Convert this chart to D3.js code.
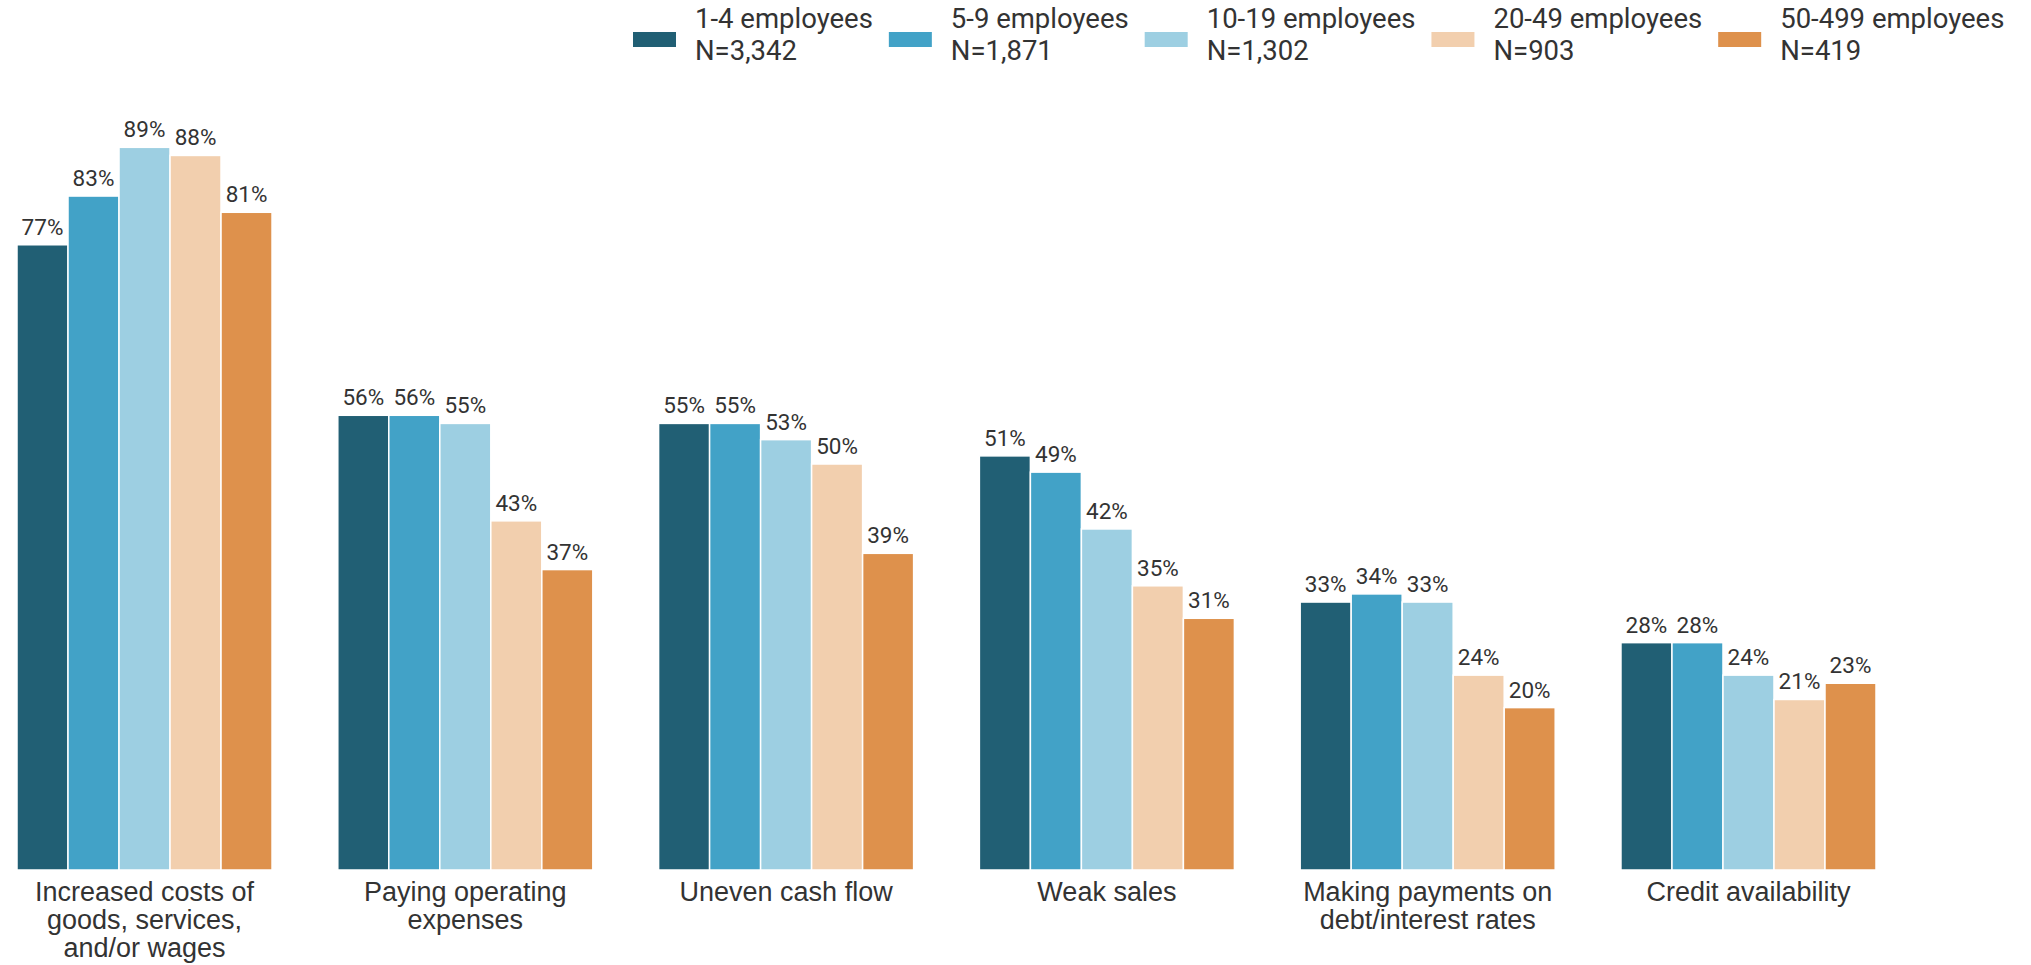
<!DOCTYPE html>
<html>
<head>
<meta charset="utf-8">
<script src="https://cdn.jsdelivr.net/npm/d3@7"></script>
<style>
  html, body { margin: 0; padding: 0; background: #fff; }
  svg { display: block; font-family: Roboto, "Noto Sans", sans-serif; }
</style>
</head>
<body>
<svg id="chart" width="2031" height="965"></svg>
<script>
const categories = [
  "Increased costs of goods, services, and/or wages",
  "Paying operating expenses",
  "Uneven cash flow",
  "Weak sales",
  "Making payments on debt/interest rates",
  "Credit availability"
];
const tickLabels = [
  ["Increased costs of", "goods, services,", "and/or wages"],
  ["Paying operating", "expenses"],
  ["Uneven cash flow"],
  ["Weak sales"],
  ["Making payments on", "debt/interest rates"],
  ["Credit availability"]
];
const seriesNames = ["1-4 employees", "5-9 employees", "10-19 employees", "20-49 employees", "50-499 employees"];
const seriesN = ["N=3,342", "N=1,871", "N=1,302", "N=903", "N=419"];
const colors = ["#215f74", "#42a2c7", "#9dcfe2", "#f2cfae", "#de914c"];
const s1_4 =    [77, 56, 55, 51, 33, 28];
const s5_9 =    [83, 56, 55, 49, 34, 28];
const s10_19 =  [89, 55, 53, 42, 33, 24];
const s20_49 =  [88, 43, 50, 35, 24, 21];
const s50_499 = [81, 37, 39, 31, 20, 23];
const seriesValues = [s1_4, s5_9, s10_19, s20_49, s50_499];

const svg = d3.select("#chart");
const textColor = "#333333";

const x0 = d3.scaleBand().domain(categories).range([17, 1876]).paddingInner(0.205).paddingOuter(0);
const x1 = d3.scaleBand().domain(d3.range(seriesNames.length)).range([0, x0.bandwidth()]).padding(0);
const y = d3.scaleLinear().domain([0, 100]).range([870, 58]);

const groups = svg.append("g").selectAll("g")
  .data(categories)
  .join("g")
  .attr("transform", d => `translate(${x0(d)},0)`);

groups.selectAll("rect")
  .data((d, i) => seriesValues.map((s, j) => ({ j, v: s[i] })))
  .join("rect")
  .attr("x", d => x1(d.j))
  .attr("width", x1.bandwidth())
  .attr("y", d => y(d.v))
  .attr("height", d => y(0) - y(d.v))
  .attr("fill", d => colors[d.j])
  .attr("stroke", "#ffffff")
  .attr("stroke-width", 1.5);

groups.selectAll("text.val")
  .data((d, i) => seriesValues.map((s, j) => ({ j, v: s[i] })))
  .join("text")
  .attr("class", "val")
  .attr("x", d => x1(d.j) + x1.bandwidth() / 2)
  .attr("y", d => y(d.v) - 10)
  .attr("text-anchor", "middle")
  .attr("font-size", 22.5)
  .attr("fill", textColor)
  .text(d => d.v + "%");

// x axis
const axis = svg.append("g")
  .attr("transform", `translate(0,${y(0)})`)
  .call(d3.axisBottom(x0).tickSize(0).tickFormat(""));
axis.select(".domain").remove();
axis.selectAll(".tick").each(function (d, i) {
  const t = d3.select(this).append("text")
    .attr("fill", textColor)
    .attr("font-size", 27)
    .attr("text-anchor", "middle")
    .attr("y", 31);
  tickLabels[i].forEach((line, k) => {
    t.append("tspan").attr("x", 0).attr("y", 31 + k * 28).text(line);
  });
});

// legend
const legend = svg.append("g");
let lx = 633;
seriesNames.forEach((name, i) => {
  const g = legend.append("g").attr("transform", `translate(${lx},0)`);
  g.append("rect").attr("x", 0).attr("y", 32).attr("width", 43).attr("height", 15).attr("fill", colors[i]);
  const t = g.append("text").attr("font-size", 27.5).attr("fill", textColor);
  t.append("tspan").attr("x", 62).attr("y", 28).text(name);
  t.append("tspan").attr("x", 62).attr("y", 60).text(seriesN[i]);
  const w = t.node().getBBox().width;
  lx += 62 + w + 16;
});
</script>
</body>
</html>
